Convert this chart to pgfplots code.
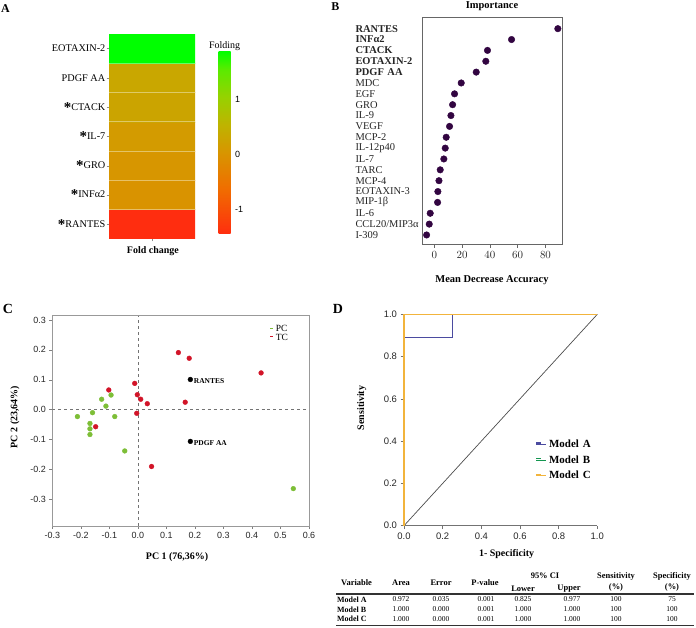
\documentclass[border=0pt]{standalone}
\usepackage{pgfplots}
\pgfplotsset{compat=1.18}
\usepackage{fontspec}
\setmainfont{Liberation Serif}
\newfontfamily\arial{Liberation Sans}
\newcommand{\fs}[1]{\fontsize{#1}{#1}\selectfont}
\newcommand{\astk}{\raisebox{-0.45ex}{\bfseries\fs{15}*}}
\definecolor{pcgreen}{RGB}{125,190,55}
\definecolor{tcred}{RGB}{210,20,40}
\definecolor{dotpurple}{RGB}{50,5,65}
\definecolor{modA}{RGB}{75,75,160}
\definecolor{modB}{RGB}{20,150,80}
\definecolor{modC}{RGB}{242,180,60}
\begin{document}
\begin{tikzpicture}[x=1bp,y=1bp]
\useasboundingbox (0,0) rectangle (696,628);
% panel letters
\node[font=\bfseries\fs{12}] at (5.5,619.7) {A};
\node[font=\bfseries\fs{12}] at (335.3,621.2) {B};
\node[font=\bfseries\fs{14}] at (8,319.3) {C};
\node[font=\bfseries\fs{14}] at (338,319.5) {D};

% ---------------- Panel A
\begin{axis}[
  at={(109bp,594bp)}, anchor=north west,
  scale only axis, width=86bp, height=205bp,
  xmin=-0.5, xmax=1.5, ymin=0.5, ymax=7.5,
  axis line style={draw=none},
  axis on top,
  tick align=outside, major tick length=2.5bp,
  tick style={black!45, line width=0.5bp},
  xtick={0.5}, xticklabels={}, xtick pos=bottom,
  ytick={1,2,3,4,5,6,7}, ytick pos=left,
  yticklabels={\astk RANTES, \astk INFα2, \astk GRO, \astk IL-7, \astk CTACK, PDGF AA, EOTAXIN-2},
  yticklabel style={font=\fs{10.3}, inner sep=1bp},
  minor ytick={1.5,2.5,3.5,4.5,5.5,6.5}, minor tick length=0pt,
  yminorgrids, minor grid style={white, opacity=0.4, line width=0.7bp},
  xlabel={Fold change},
  xlabel style={at={(axis description cs:0.51,-0.059)}, anchor=center, font=\bfseries\fs{10}},
  colormap={fold}{rgb255(0cm)=(255,45,15); rgb255(25cm)=(240,110,0); rgb255(45cm)=(215,150,0); rgb255(60cm)=(190,180,0); rgb255(75cm)=(150,210,0); rgb255(90cm)=(90,235,0); rgb255(100cm)=(0,255,0)},
  point meta min=-1.45, point meta max=1.87,
  colorbar,
  colorbar style={at={(parent axis.north east)}, anchor=north west, xshift=15bp, yshift=-17bp,
    width=12bp, height=183bp, ytick={-1,0,1}, ytick pos=right, yticklabel pos=right,
    major tick length=0pt,
    axis line style={draw=none},
    yticklabel style={font=\arial\fs{9}, xshift=1bp, /pgf/number format/assume math mode=true},
    title={Folding}, title style={font=\fs{10}, yshift=-9bp}},
]
\addplot[matrix plot*, mesh/cols=2, point meta=explicit] table[meta=v] {
x y v
0 1 -1.45
1 1 -1.45
0 2 0.00
1 2 0.00
0 3 0.05
1 3 0.05
0 4 0.12
1 4 0.12
0 5 0.28
1 5 0.28
0 6 0.32
1 6 0.32
0 7 1.87
1 7 1.87
};
\end{axis}

% ---------------- Panel B
\begin{axis}[
  at={(422.7bp,610.7bp)}, anchor=north west,
  scale only axis, width=140bp, height=226.7bp,
  xmin=-8.3, xmax=92.4, ymin=0.17, ymax=21.05,
  axis line style={black!60, line width=0.6bp},
  xtick={0,20,40,60,80}, xtick pos=bottom, tick align=outside,
  major tick length=4bp, tick style={black!60, line width=0.5bp},
  every y tick/.style={draw=none},
  ytick={1,...,20},
  yticklabels={I-309, CCL20/MIP3α, IL-6, MIP-1β, EOTAXIN-3, MCP-4, TARC, IL-7, IL-12p40, MCP-2, VEGF, IL-9, GRO, EGF, MDC, \textbf{PDGF AA}, \textbf{EOTAXIN-2}, \textbf{CTACK}, \textbf{INFα2}, \textbf{RANTES}},
  yticklabel style={font=\fs{10.5}, text=black!85, anchor=east, text width=66bp, align=left, inner sep=0pt, xshift=3bp},
  xticklabel style={font=\arial\fs{10.5}, text=black!85},
  title={Importance}, title style={at={(axis description cs:0.495,1.05)}, anchor=center, yshift=-6pt, font=\bfseries\fs{10.5}},
  xlabel={Mean Decrease Accuracy},
  xlabel style={at={(axis description cs:0.495,-0.159)}, anchor=center, font=\bfseries\fs{10.5}},
]
\addplot[only marks, mark=*, mark size=3.3pt, color=dotpurple] coordinates {
(88.9,20) (55.6,19) (38.3,18) (37.1,17) (30.2,16) (19.4,15) (14.6,14) (13.2,13) (12.0,12) (11.0,11)
(8.6,10) (7.9,9) (6.9,8) (4.3,7) (3.4,6) (2.6,5) (2.4,4) (-2.9,3) (-3.6,2) (-5.5,1)};
\end{axis}

% ---------------- Panel C
\begin{axis}[
  at={(52.3bp,312.3bp)}, anchor=north west,
  scale only axis, width=256.7bp, height=210.3bp,
  xmin=-0.3, xmax=0.6, ymin=-0.389, ymax=0.3144,
  axis line style={black!40, line width=0.6bp},
  tick style={black!50, line width=0.5bp}, tick align=outside, major tick length=3bp,
  xtick={-0.3,-0.2,-0.1,0,0.1,0.2,0.3,0.4,0.5,0.6},
  ytick={-0.3,-0.2,-0.1,0,0.1,0.2,0.3},
  xtick pos=bottom, ytick pos=left,
  tick label style={font=\arial\fs{9}, text=black!85, /pgf/number format/.cd, fixed, fixed zerofill, precision=1, assume math mode=true},
  xlabel={PC 1 (76,36\%)}, ylabel={PC 2 (23,64\%)},
  xlabel style={at={(axis description cs:0.486,-0.146)}, anchor=center, font=\bfseries\fs{10}},
  ylabel style={at={(axis description cs:-0.145,0.518)}, anchor=center, font=\bfseries\fs{10}},
  legend style={at={(axis description cs:0.835,0.975)}, anchor=north west, draw=none, fill=none, font=\fs{9.5}, row sep=-3bp},
  legend cell align=left,
]
\addplot[black!55, dashed, line width=0.5bp, forget plot] coordinates {(0,-0.389) (0,0.3144)};
\addplot[black!55, dashed, line width=0.5bp, forget plot] coordinates {(-0.3,0) (0.6,0)};
\addplot[only marks, mark=*, mark size=2.4pt, color=pcgreen,
  legend image code/.code={\draw[pcgreen, line width=1bp] (0bp,1bp) -- (3bp,1bp);}] coordinates {
(-0.212,-0.023) (-0.159,-0.010) (-0.168,-0.046) (-0.168,-0.064) (-0.168,-0.083)
(-0.127,0.035) (-0.094,0.049) (-0.112,0.012) (-0.081,-0.023) (-0.046,-0.138) (0.545,-0.264)};
\addlegendentry{PC}
\addplot[only marks, mark=*, mark size=2.4pt, color=tcred,
  legend image code/.code={\draw[tcred, line width=1bp] (0bp,1bp) -- (3bp,1bp);}] coordinates {
(0.142,0.191) (0.180,0.172) (0.432,0.123) (-0.011,0.088) (-0.102,0.066) (-0.002,0.050)
(0.010,0.035) (0.033,0.020) (0.166,0.025) (-0.004,-0.012) (-0.148,-0.057) (0.048,-0.190)};
\addlegendentry{TC}
\addplot[only marks, mark=*, mark size=2.4pt, color=black, forget plot,
  point meta=explicit symbolic, nodes near coords,
  nodes near coords style={anchor=west, font=\bfseries\fs{7.5}, yshift=-2bp, text=black}] coordinates {
(0.184,0.101) [RANTES] (0.184,-0.106) [PDGF AA]};
\end{axis}

% ---------------- Panel D
\begin{axis}[
  at={(404bp,313.7bp)}, anchor=north west,
  scale only axis, width=193.3bp, height=211.4bp,
  xmin=0, xmax=1, ymin=0, ymax=1,
  axis x line*=bottom, axis y line*=left,
  axis line style={black!55, line width=0.6bp},
  tick style={black!55, line width=0.5bp}, tick align=outside, major tick length=3.5bp,
  xtick={0,0.2,0.4,0.6,0.8,1}, ytick={0,0.2,0.4,0.6,0.8,1},
  tick label style={font=\arial\fs{9.5}, text=black!85, /pgf/number format/.cd, fixed, fixed zerofill, precision=1, assume math mode=true},
  xlabel={1- Specificity}, ylabel={Sensitivity},
  xlabel style={at={(axis description cs:0.531,-0.134)}, anchor=center, font=\bfseries\fs{10}},
  ylabel style={at={(axis description cs:-0.219,0.557)}, anchor=center, font=\bfseries\fs{10}},
  clip=false,
  legend style={at={(axis description cs:0.665,0.425)}, anchor=north west, draw=none, fill=none, font=\bfseries\fs{11}, row sep=2.5bp},
  legend cell align=left,
]
\addplot[black!70, line width=0.7bp, forget plot] coordinates {(0,0) (1,1)};
\addplot[modA, line width=1bp, legend image code/.code={\draw[modA, line width=1.4bp] (0bp,1.5bp) -- (5bp,1.5bp); \path (0bp,0bp) -- (10bp,0bp);}] coordinates {(0,0) (0,0.889) (0.25,0.889) (0.25,1) (1,1)};
\addlegendentry{Model\hspace{4bp}A}
\addplot[modB, line width=1.2bp, legend image code/.code={\draw[modB, line width=1.4bp] (0bp,1.5bp) -- (5bp,1.5bp); \path (0bp,0bp) -- (10bp,0bp);}] coordinates {(0,0) (0,1) (1,1)};
\addlegendentry{Model\hspace{4bp}B}
\addplot[modC, line width=1.4bp, legend image code/.code={\draw[modC, line width=1.4bp] (0bp,1.5bp) -- (5bp,1.5bp); \path (0bp,0bp) -- (10bp,0bp);}] coordinates {(0,0) (0,1) (1,1)};
\addlegendentry{Model\hspace{4bp}C}
\end{axis}

% ---------------- Table
\begin{scope}[every node/.style={inner sep=0pt}]
\node[font=\bfseries\fs{8.5}, anchor=west] at (341,45) {Variable};
\node[font=\bfseries\fs{8.5}] at (401,45) {Area};
\node[font=\bfseries\fs{8.5}] at (441,45) {Error};
\node[font=\bfseries\fs{8.5}] at (485,45) {P-value};
\node[font=\bfseries\fs{8.5}] at (545,52) {95\% CI};
\node[font=\bfseries\fs{8.5}] at (523,39.5) {Lower};
\node[font=\bfseries\fs{8.5}] at (569,39.5) {Upper};
\node[font=\bfseries\fs{8.5}] at (616,52) {Sensitivity};
\node[font=\bfseries\fs{8.5}] at (616,40.5) {(\%)};
\node[font=\bfseries\fs{8.5}] at (672,52) {Specificity};
\node[font=\bfseries\fs{8.5}] at (672,40.5) {(\%)};
\draw[black!80, line width=1.2bp] (336,34) -- (694,34);
\foreach \yy/\m/\a/\e/\l/\u/\sp in {28.5/A/0.972/0.035/0.825/0.977/75, 18.7/B/1.000/0.000/1.000/1.000/100, 9/C/1.000/0.000/1.000/1.000/100}{
  \node[font=\bfseries\fs{8}, anchor=west] at (337,\yy) {Model \m};
  \node[font=\fs{7.5}] at (401,\yy) {\a};
  \node[font=\fs{7.5}] at (441,\yy) {\e};
  \node[font=\fs{7.5}] at (486,\yy) {0.001};
  \node[font=\fs{7.5}] at (523,\yy) {\l};
  \node[font=\fs{7.5}] at (572,\yy) {\u};
  \node[font=\fs{7.5}] at (616,\yy) {100};
  \node[font=\fs{7.5}] at (672,\yy) {\sp};
}
\draw[black!80, line width=1.6bp] (336,2.5) -- (694,2.5);
\end{scope}
\end{tikzpicture}
\end{document}
